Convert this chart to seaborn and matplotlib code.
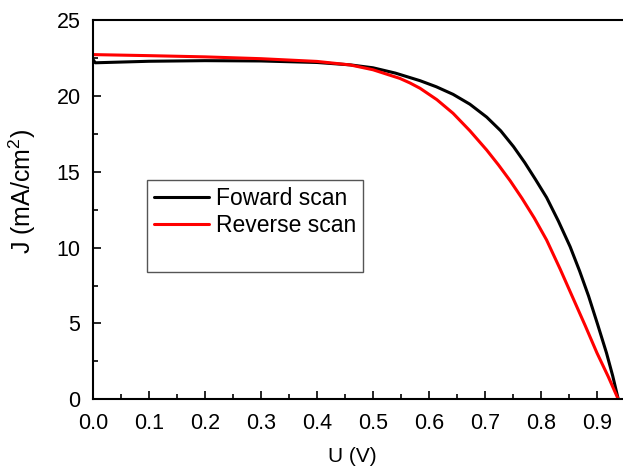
import numpy as np
import pandas as pd
import matplotlib
matplotlib.use("Agg")
import matplotlib.pyplot as plt
import seaborn as sns
from matplotlib.ticker import MultipleLocator
from matplotlib.lines import Line2D

# Data
v_forward = [0.0, 0.004, 0.1, 0.2, 0.3, 0.4, 0.46, 0.5, 0.54, 0.584, 0.613, 0.643, 0.673,
             0.703, 0.728, 0.751, 0.771, 0.79, 0.81, 0.831, 0.852, 0.869, 0.885, 0.901,
             0.917, 0.928, 0.938]
j_forward = [22.4, 22.18, 22.28, 22.32, 22.3, 22.2, 22.04, 21.85, 21.5, 21.0, 20.6, 20.1,
             19.45, 18.6, 17.7, 16.65, 15.6, 14.5, 13.3, 11.75, 10.06, 8.45, 6.8, 4.95,
             3.05, 1.55, 0.0]
v_reverse = [0.0, 0.1, 0.2, 0.3, 0.4, 0.459, 0.5, 0.548, 0.566, 0.584, 0.614, 0.643, 0.673,
             0.703, 0.724, 0.745, 0.766, 0.788, 0.81, 0.834, 0.858, 0.879, 0.9, 0.92, 0.938]
j_reverse = [22.72, 22.65, 22.57, 22.45, 22.27, 22.04, 21.72, 21.15, 20.85, 20.5, 19.75,
             18.85, 17.7, 16.43, 15.45, 14.4, 13.25, 11.95, 10.5, 8.6, 6.6, 4.85, 3.05,
             1.5, 0.0]
series_names = ["Foward scan", "Reverse scan"]
x_ticks = [0.0, 0.1, 0.2, 0.3, 0.4, 0.5, 0.6, 0.7, 0.8, 0.9]
y_ticks = [0, 5, 10, 15, 20, 25]

df = pd.concat([
    pd.DataFrame({"U": v_forward, "J": j_forward, "scan": series_names[0]}),
    pd.DataFrame({"U": v_reverse, "J": j_reverse, "scan": series_names[1]}),
], ignore_index=True)

sns.set_style("ticks")
plt.rcParams["font.family"] = ["Liberation Sans", "DejaVu Sans"]
plt.rcParams["mathtext.fontset"] = "custom"
plt.rcParams["mathtext.rm"] = "Liberation Sans"
for key in ["text.color", "axes.labelcolor", "xtick.color", "ytick.color",
            "xtick.labelcolor", "ytick.labelcolor"]:
    plt.rcParams[key] = "black"

fig = plt.figure(figsize=(6.23, 4.67), dpi=100)
W, H = 623, 467
left, right, top, bottom = 93, 625, 20, 399.3
aw, ah = right - left, bottom - top
ax = fig.add_axes([left / W, (H - bottom) / H, aw / W, ah / H])

sns.lineplot(data=df, x="U", y="J", hue="scan", palette=["black", "red"],
             sort=False, estimator=None, linewidth=2.2, ax=ax, legend=False)

ax.set_xlim(0, 0.95)
ax.set_ylim(0, 25)
ax.set_xticks(x_ticks)
ax.set_xticklabels([f"{t:.1f}" for t in x_ticks])
ax.set_yticks(y_ticks)
ax.xaxis.set_minor_locator(MultipleLocator(0.05))
ax.yaxis.set_minor_locator(MultipleLocator(2.5))
ax.tick_params(which="major", direction="in", length=6, width=1.2, labelsize=15.5,
               top=False, right=False, colors="black")
ax.tick_params(axis="x", which="major", pad=10)
ax.tick_params(axis="y", which="major", pad=9)
ax.tick_params(which="minor", direction="in", length=3.5, width=1.2, top=False,
               right=False, colors="black")
for s in ax.spines.values():
    s.set_linewidth(1.5)
    s.set_color("black")

ax.set_xlabel("U (V)", fontsize=15, color="black")
ax.set_ylabel("J (mA/cm$^2$)", fontsize=18, color="black")
ax.xaxis.set_label_coords((352 - left) / aw, (bottom - 447) / ah)
ax.yaxis.set_label_coords((38 - left) / aw, (bottom - 191) / ah)

handles = [Line2D([], [], color="black", lw=2.2),
           Line2D([], [], color="red", lw=2.2),
           Line2D([], [], color="none", lw=0)]
leg = ax.legend(handles, series_names + [" "], loc="upper left",
                bbox_to_anchor=((147 - left) / aw, (bottom - 180) / ah),
                fontsize=16.5, frameon=True, fancybox=False, framealpha=1,
                edgecolor="#555555", handlelength=2.4, handletextpad=0.3,
                labelspacing=0.2, borderpad=0.3, borderaxespad=0)
leg.get_frame().set_linewidth(1.0)
for t in leg.get_texts():
    t.set_color("black")

fig.savefig("out.png", dpi=100)
